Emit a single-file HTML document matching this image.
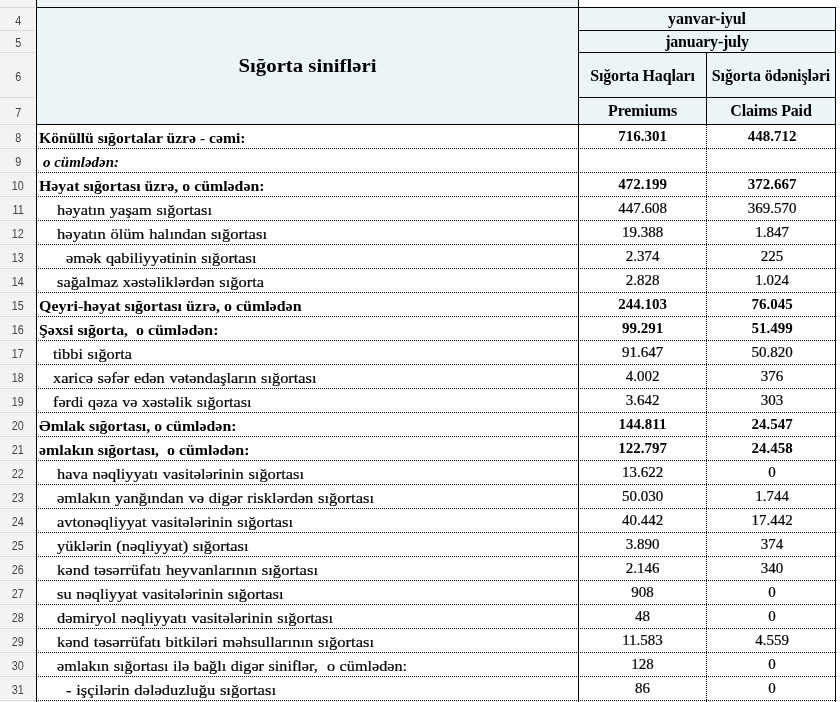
<!DOCTYPE html><html lang="az"><head><meta charset="utf-8"><title>Sığorta sinifləri</title><style>
*{box-sizing:border-box;margin:0;padding:0}
html,body{width:840px;height:702px;overflow:hidden;background:#fff}
body{position:relative;font-family:"Liberation Serif",serif;color:#000}
.abs{position:absolute}
.rh{position:absolute;left:0;top:0;width:36px;height:702px;background:#f3f3f3}
.rn{position:absolute;left:0;width:35px;text-align:center;font-family:"Liberation Sans",sans-serif;font-size:12px;color:#444;border-bottom:1px solid #d9d9d9}
.hb{position:absolute;background:#eaf5f8}
.ln{position:absolute;background:#000}
.dh{position:absolute;height:1px;left:38px;width:797px;background-image:repeating-linear-gradient(90deg,#000 0 1px,transparent 1px 2px)}
.dv{position:absolute;width:1px;background-image:repeating-linear-gradient(180deg,#000 0 1px,transparent 1px 2px)}
.t{position:absolute;white-space:pre;font-size:15px;line-height:24px;height:24px;transform-origin:0 50%;word-spacing:0.5px;-webkit-text-stroke:0.2px #000}
.b{font-weight:bold;word-spacing:0;-webkit-text-stroke:0}
.i{font-style:italic}
.c{text-align:center}
.h{font-weight:bold;font-size:16px;text-align:center;white-space:pre}
</style></head><body>
<div class="rh"></div>
<div class="rn" style="top:-19px;height:27px;line-height:30px"><span style="display:inline-block;transform:scaleX(0.9);margin-left:1px">3</span></div>
<div class="rn" style="top:8px;height:23px;line-height:26px"><span style="display:inline-block;transform:scaleX(0.9);margin-left:1px">4</span></div>
<div class="rn" style="top:31px;height:22px;line-height:25px"><span style="display:inline-block;transform:scaleX(0.9);margin-left:1px">5</span></div>
<div class="rn" style="top:53px;height:45px;line-height:48px"><span style="display:inline-block;transform:scaleX(0.9);margin-left:1px">6</span></div>
<div class="rn" style="top:98px;height:27px;line-height:30px"><span style="display:inline-block;transform:scaleX(0.9);margin-left:1px">7</span></div>
<div class="rn" style="top:125px;height:24px;line-height:27px"><span style="display:inline-block;transform:scaleX(0.9);margin-left:1px">8</span></div>
<div class="rn" style="top:149px;height:24px;line-height:27px"><span style="display:inline-block;transform:scaleX(0.9);margin-left:1px">9</span></div>
<div class="rn" style="top:173px;height:24px;line-height:27px"><span style="display:inline-block;transform:scaleX(0.9);margin-left:1px">10</span></div>
<div class="rn" style="top:197px;height:24px;line-height:27px"><span style="display:inline-block;transform:scaleX(0.9);margin-left:1px">11</span></div>
<div class="rn" style="top:221px;height:24px;line-height:27px"><span style="display:inline-block;transform:scaleX(0.9);margin-left:1px">12</span></div>
<div class="rn" style="top:245px;height:24px;line-height:27px"><span style="display:inline-block;transform:scaleX(0.9);margin-left:1px">13</span></div>
<div class="rn" style="top:269px;height:24px;line-height:27px"><span style="display:inline-block;transform:scaleX(0.9);margin-left:1px">14</span></div>
<div class="rn" style="top:293px;height:24px;line-height:27px"><span style="display:inline-block;transform:scaleX(0.9);margin-left:1px">15</span></div>
<div class="rn" style="top:317px;height:24px;line-height:27px"><span style="display:inline-block;transform:scaleX(0.9);margin-left:1px">16</span></div>
<div class="rn" style="top:341px;height:24px;line-height:27px"><span style="display:inline-block;transform:scaleX(0.9);margin-left:1px">17</span></div>
<div class="rn" style="top:365px;height:24px;line-height:27px"><span style="display:inline-block;transform:scaleX(0.9);margin-left:1px">18</span></div>
<div class="rn" style="top:389px;height:24px;line-height:27px"><span style="display:inline-block;transform:scaleX(0.9);margin-left:1px">19</span></div>
<div class="rn" style="top:413px;height:24px;line-height:27px"><span style="display:inline-block;transform:scaleX(0.9);margin-left:1px">20</span></div>
<div class="rn" style="top:437px;height:24px;line-height:27px"><span style="display:inline-block;transform:scaleX(0.9);margin-left:1px">21</span></div>
<div class="rn" style="top:461px;height:24px;line-height:27px"><span style="display:inline-block;transform:scaleX(0.9);margin-left:1px">22</span></div>
<div class="rn" style="top:485px;height:24px;line-height:27px"><span style="display:inline-block;transform:scaleX(0.9);margin-left:1px">23</span></div>
<div class="rn" style="top:509px;height:24px;line-height:27px"><span style="display:inline-block;transform:scaleX(0.9);margin-left:1px">24</span></div>
<div class="rn" style="top:533px;height:24px;line-height:27px"><span style="display:inline-block;transform:scaleX(0.9);margin-left:1px">25</span></div>
<div class="rn" style="top:557px;height:24px;line-height:27px"><span style="display:inline-block;transform:scaleX(0.9);margin-left:1px">26</span></div>
<div class="rn" style="top:581px;height:24px;line-height:27px"><span style="display:inline-block;transform:scaleX(0.9);margin-left:1px">27</span></div>
<div class="rn" style="top:605px;height:24px;line-height:27px"><span style="display:inline-block;transform:scaleX(0.9);margin-left:1px">28</span></div>
<div class="rn" style="top:629px;height:24px;line-height:27px"><span style="display:inline-block;transform:scaleX(0.9);margin-left:1px">29</span></div>
<div class="rn" style="top:653px;height:24px;line-height:27px"><span style="display:inline-block;transform:scaleX(0.9);margin-left:1px">30</span></div>
<div class="rn" style="top:677px;height:24px;line-height:27px"><span style="display:inline-block;transform:scaleX(0.9);margin-left:1px">31</span></div>
<div class="rn" style="top:701px;height:24px;line-height:27px"><span style="display:inline-block;transform:scaleX(0.9);margin-left:1px">32</span></div>
<div class="hb" style="left:37px;top:0;width:541px;height:124px"></div>
<div class="hb" style="left:578px;top:8px;width:258px;height:116px"></div>
<div class="ln" style="left:36px;top:0px;width:1px;height:702px"></div>
<div class="ln" style="left:578px;top:0px;width:1px;height:702px"></div>
<div class="ln" style="left:835px;top:7px;width:1px;height:695px"></div>
<div class="ln" style="left:36px;top:7px;width:800px;height:1px"></div>
<div class="ln" style="left:578px;top:30px;width:258px;height:1px"></div>
<div class="ln" style="left:578px;top:52px;width:258px;height:1px"></div>
<div class="ln" style="left:578px;top:97px;width:258px;height:1px"></div>
<div class="ln" style="left:36px;top:124px;width:800px;height:1px"></div>
<div class="ln" style="left:706px;top:52px;width:1px;height:72px"></div>
<div class="dh" style="top:148px"></div>
<div class="dh" style="top:172px"></div>
<div class="dh" style="top:196px"></div>
<div class="dh" style="top:220px"></div>
<div class="dh" style="top:244px"></div>
<div class="dh" style="top:268px"></div>
<div class="dh" style="top:292px"></div>
<div class="dh" style="top:316px"></div>
<div class="dh" style="top:340px"></div>
<div class="dh" style="top:364px"></div>
<div class="dh" style="top:388px"></div>
<div class="dh" style="top:412px"></div>
<div class="dh" style="top:436px"></div>
<div class="dh" style="top:460px"></div>
<div class="dh" style="top:484px"></div>
<div class="dh" style="top:508px"></div>
<div class="dh" style="top:532px"></div>
<div class="dh" style="top:556px"></div>
<div class="dh" style="top:580px"></div>
<div class="dh" style="top:604px"></div>
<div class="dh" style="top:628px"></div>
<div class="dh" style="top:652px"></div>
<div class="dh" style="top:676px"></div>
<div class="dh" style="top:700px"></div>
<div class="dv" style="left:706px;top:125px;height:577px"></div>
<div class="abs" style="left:836px;top:7px;width:4px;height:1px;background:#e2e2e2"></div>
<div class="abs" style="left:836px;top:30px;width:4px;height:1px;background:#e2e2e2"></div>
<div class="abs" style="left:836px;top:52px;width:4px;height:1px;background:#e2e2e2"></div>
<div class="abs" style="left:836px;top:97px;width:4px;height:1px;background:#e2e2e2"></div>
<div class="abs" style="left:836px;top:124px;width:4px;height:1px;background:#e2e2e2"></div>
<div class="abs" style="left:836px;top:148px;width:4px;height:1px;background:#e2e2e2"></div>
<div class="abs" style="left:836px;top:172px;width:4px;height:1px;background:#e2e2e2"></div>
<div class="abs" style="left:836px;top:196px;width:4px;height:1px;background:#e2e2e2"></div>
<div class="abs" style="left:836px;top:220px;width:4px;height:1px;background:#e2e2e2"></div>
<div class="abs" style="left:836px;top:244px;width:4px;height:1px;background:#e2e2e2"></div>
<div class="abs" style="left:836px;top:268px;width:4px;height:1px;background:#e2e2e2"></div>
<div class="abs" style="left:836px;top:292px;width:4px;height:1px;background:#e2e2e2"></div>
<div class="abs" style="left:836px;top:316px;width:4px;height:1px;background:#e2e2e2"></div>
<div class="abs" style="left:836px;top:340px;width:4px;height:1px;background:#e2e2e2"></div>
<div class="abs" style="left:836px;top:364px;width:4px;height:1px;background:#e2e2e2"></div>
<div class="abs" style="left:836px;top:388px;width:4px;height:1px;background:#e2e2e2"></div>
<div class="abs" style="left:836px;top:412px;width:4px;height:1px;background:#e2e2e2"></div>
<div class="abs" style="left:836px;top:436px;width:4px;height:1px;background:#e2e2e2"></div>
<div class="abs" style="left:836px;top:460px;width:4px;height:1px;background:#e2e2e2"></div>
<div class="abs" style="left:836px;top:484px;width:4px;height:1px;background:#e2e2e2"></div>
<div class="abs" style="left:836px;top:508px;width:4px;height:1px;background:#e2e2e2"></div>
<div class="abs" style="left:836px;top:532px;width:4px;height:1px;background:#e2e2e2"></div>
<div class="abs" style="left:836px;top:556px;width:4px;height:1px;background:#e2e2e2"></div>
<div class="abs" style="left:836px;top:580px;width:4px;height:1px;background:#e2e2e2"></div>
<div class="abs" style="left:836px;top:604px;width:4px;height:1px;background:#e2e2e2"></div>
<div class="abs" style="left:836px;top:628px;width:4px;height:1px;background:#e2e2e2"></div>
<div class="abs" style="left:836px;top:652px;width:4px;height:1px;background:#e2e2e2"></div>
<div class="abs" style="left:836px;top:676px;width:4px;height:1px;background:#e2e2e2"></div>
<div class="abs" style="left:836px;top:700px;width:4px;height:1px;background:#e2e2e2"></div>
<div class="abs" style="left:836px;top:724px;width:4px;height:1px;background:#e2e2e2"></div>
<div class="abs h" id="title" style="left:37px;top:54px;width:541px;font-size:18.67px;line-height:24px;transform:scaleX(1.114)">Sığorta sinifləri</div>
<div class="abs h" id="h1" style="left:579px;top:8px;width:256px;line-height:22px;letter-spacing:-0.048px">yanvar-iyul</div>
<div class="abs h" id="h2" style="left:579px;top:31px;width:256px;line-height:22px;letter-spacing:-0.211px">january-july</div>
<div class="abs h" id="h3" style="left:579px;top:65px;width:127px;line-height:22px;letter-spacing:-0.188px">Sığorta Haqları</div>
<div class="abs h" id="h4" style="left:707px;top:65px;width:128px;line-height:22px;letter-spacing:-0.113px">Sığorta ödənişləri</div>
<div class="abs h" id="h5" style="left:579px;top:100px;width:127px;line-height:22px;letter-spacing:-0.115px">Premiums</div>
<div class="abs h" id="h6" style="left:707px;top:100px;width:128px;line-height:22px;letter-spacing:-0.166px">Claims Paid</div>
<div class="t b" id="r8" style="left:38.5px;top:126px;transform:scaleX(1.0428)">Könüllü sığortalar üzrə - cəmi:</div>
<div class="t c b" style="left:579px;width:127px;top:124px">716.301</div>
<div class="t c b" style="left:708px;width:128px;top:124px">448.712</div>
<div class="t b i" id="r9" style="left:43px;top:150px;transform:scaleX(0.9967)">o cümlədən:</div>
<div class="t b" id="r10" style="left:38.5px;top:174px;transform:scaleX(1.0551)">Həyat sığortası üzrə, o cümlədən:</div>
<div class="t c b" style="left:579px;width:127px;top:172px">472.199</div>
<div class="t c b" style="left:708px;width:128px;top:172px">372.667</div>
<div class="t" id="r11" style="left:57px;top:198px;transform:scaleX(1.093)">həyatın yaşam sığortası</div>
<div class="t c" style="left:579px;width:127px;top:196px">447.608</div>
<div class="t c" style="left:708px;width:128px;top:196px">369.570</div>
<div class="t" id="r12" style="left:57px;top:222px;transform:scaleX(1.104)">həyatın ölüm halından sığortası</div>
<div class="t c" style="left:579px;width:127px;top:220px">19.388</div>
<div class="t c" style="left:708px;width:128px;top:220px">1.847</div>
<div class="t" id="r13" style="left:66px;top:246px;transform:scaleX(1.0877)">əmək qabiliyyətinin sığortası</div>
<div class="t c" style="left:579px;width:127px;top:244px">2.374</div>
<div class="t c" style="left:708px;width:128px;top:244px">225</div>
<div class="t" id="r14" style="left:57px;top:270px;transform:scaleX(1.0937)">sağalmaz xəstəliklərdən sığorta</div>
<div class="t c" style="left:579px;width:127px;top:268px">2.828</div>
<div class="t c" style="left:708px;width:128px;top:268px">1.024</div>
<div class="t b" id="r15" style="left:38.5px;top:294px;transform:scaleX(1.0626)">Qeyri-həyat sığortası üzrə, o cümlədən</div>
<div class="t c b" style="left:579px;width:127px;top:292px">244.103</div>
<div class="t c b" style="left:708px;width:128px;top:292px">76.045</div>
<div class="t b" id="r16" style="left:38.5px;top:318px;transform:scaleX(1.0585)">Şəxsi sığorta,  o cümlədən:</div>
<div class="t c b" style="left:579px;width:127px;top:316px">99.291</div>
<div class="t c b" style="left:708px;width:128px;top:316px">51.499</div>
<div class="t" id="r17" style="left:53px;top:342px;transform:scaleX(1.0885)">tibbi sığorta</div>
<div class="t c" style="left:579px;width:127px;top:340px">91.647</div>
<div class="t c" style="left:708px;width:128px;top:340px">50.820</div>
<div class="t" id="r18" style="left:53px;top:366px;transform:scaleX(1.0893)">xaricə səfər edən vətəndaşların sığortası</div>
<div class="t c" style="left:579px;width:127px;top:364px">4.002</div>
<div class="t c" style="left:708px;width:128px;top:364px">376</div>
<div class="t" id="r19" style="left:53px;top:390px;transform:scaleX(1.0762)">fərdi qəza və xəstəlik sığortası</div>
<div class="t c" style="left:579px;width:127px;top:388px">3.642</div>
<div class="t c" style="left:708px;width:128px;top:388px">303</div>
<div class="t b" id="r20" style="left:38.5px;top:414px;transform:scaleX(1.0566)">Əmlak sığortası, o cümlədən:</div>
<div class="t c b" style="left:579px;width:127px;top:412px">144.811</div>
<div class="t c b" style="left:708px;width:128px;top:412px">24.547</div>
<div class="t b" id="r21" style="left:38.5px;top:438px;transform:scaleX(1.0591)">əmlakın sığortası,  o cümlədən:</div>
<div class="t c b" style="left:579px;width:127px;top:436px">122.797</div>
<div class="t c b" style="left:708px;width:128px;top:436px">24.458</div>
<div class="t" id="r22" style="left:57px;top:462px;transform:scaleX(1.0928)">hava nəqliyyatı vasitələrinin sığortası</div>
<div class="t c" style="left:579px;width:127px;top:460px">13.622</div>
<div class="t c" style="left:708px;width:128px;top:460px">0</div>
<div class="t" id="r23" style="left:57px;top:486px;transform:scaleX(1.1013)">əmlakın yanğından və digər risklərdən sığortası</div>
<div class="t c" style="left:579px;width:127px;top:484px">50.030</div>
<div class="t c" style="left:708px;width:128px;top:484px">1.744</div>
<div class="t" id="r24" style="left:57px;top:510px;transform:scaleX(1.097)">avtonəqliyyat vasitələrinin sığortası</div>
<div class="t c" style="left:579px;width:127px;top:508px">40.442</div>
<div class="t c" style="left:708px;width:128px;top:508px">17.442</div>
<div class="t" id="r25" style="left:57px;top:534px;transform:scaleX(1.0934)">yüklərin (nəqliyyat) sığortası</div>
<div class="t c" style="left:579px;width:127px;top:532px">3.890</div>
<div class="t c" style="left:708px;width:128px;top:532px">374</div>
<div class="t" id="r26" style="left:57px;top:558px;transform:scaleX(1.1059)">kənd təsərrüfatı heyvanlarının sığortası</div>
<div class="t c" style="left:579px;width:127px;top:556px">2.146</div>
<div class="t c" style="left:708px;width:128px;top:556px">340</div>
<div class="t" id="r27" style="left:57px;top:582px;transform:scaleX(1.0948)">su nəqliyyat vasitələrinin sığortası</div>
<div class="t c" style="left:579px;width:127px;top:580px">908</div>
<div class="t c" style="left:708px;width:128px;top:580px">0</div>
<div class="t" id="r28" style="left:57px;top:606px;transform:scaleX(1.0958)">dəmiryol nəqliyyatı vasitələrinin sığortası</div>
<div class="t c" style="left:579px;width:127px;top:604px">48</div>
<div class="t c" style="left:708px;width:128px;top:604px">0</div>
<div class="t" id="r29" style="left:57px;top:630px;transform:scaleX(1.1016)">kənd təsərrüfatı bitkiləri məhsullarının sığortası</div>
<div class="t c" style="left:579px;width:127px;top:628px">11.583</div>
<div class="t c" style="left:708px;width:128px;top:628px">4.559</div>
<div class="t" id="r30" style="left:57px;top:654px;transform:scaleX(1.0783)">əmlakın sığortası ilə bağlı digər siniflər,  o cümlədən:</div>
<div class="t c" style="left:579px;width:127px;top:652px">128</div>
<div class="t c" style="left:708px;width:128px;top:652px">0</div>
<div class="t" id="r31" style="left:66px;top:678px;transform:scaleX(1.1041)">- işçilərin dələduzluğu sığortası</div>
<div class="t c" style="left:579px;width:127px;top:676px">86</div>
<div class="t c" style="left:708px;width:128px;top:676px">0</div>
</body></html>
